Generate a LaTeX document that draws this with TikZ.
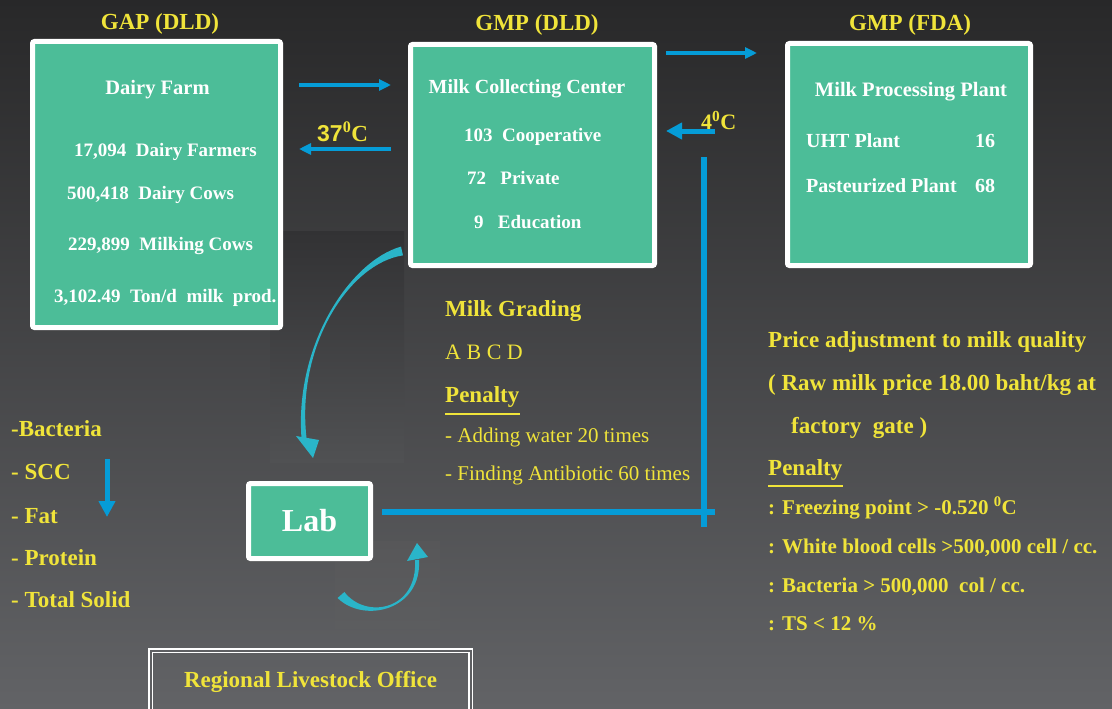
\documentclass[tikz,border=0pt]{standalone}
\usepackage{fontspec}
\setmainfont{Liberation Serif}
\newfontfamily\arialfont{Liberation Sans}
\usepackage{xcolor}
\usetikzlibrary{arrows.meta}

\definecolor{boxgreen}{RGB}{76,189,152}
\definecolor{labelyellow}{RGB}{240,228,58}
\definecolor{flowblue}{RGB}{5,156,215}
\definecolor{curveteal}{RGB}{42,181,201}
\definecolor{bgtop}{RGB}{40,40,41}
\definecolor{bgbottom}{RGB}{98,99,102}
\definecolor{bgoffice}{RGB}{94,95,98}

\tikzset{
	stagebox/.style={draw=white,line width=5pt,fill=boxgreen,rounded corners=2pt,inner sep=0pt,outer sep=0pt},
	boxline/.style={text=white,inner sep=0pt,anchor=base west,font=\bfseries\fontsize{#1}{24}\selectfont},
	boxline/.default=19,
	heading/.style={text=labelyellow,inner sep=0pt,anchor=base,font=\bfseries\fontsize{23}{26}\selectfont},
	note/.style={text=labelyellow,inner sep=0pt,anchor=base west,font=\fontsize{21}{24}\selectfont},
	boldnote/.style={note,font=\bfseries\fontsize{#1}{26}\selectfont},
	boldnote/.default=23,
	underline/.style={labelyellow,line width=2.7pt},
	flow/.style={flowblue,line width=3.5pt,-{Triangle[length=12pt,width=11pt]}},
	bigflow/.style={flowblue,line width=5pt,-{Triangle[length=16pt,width=16pt]}},
	wire/.style={flowblue,line width=5.5pt},
	sweep/.style={fill=curveteal},
}

\begin{document}
\begin{tikzpicture}[x=1pt,y=-1pt]
	\shade[top color=bgtop,bottom color=bgbottom] (0,0) rectangle (1112,709);
	\useasboundingbox (0,0) rectangle (1112,709);
	\shade[top color={rgb,255:red,50;green,50;blue,52},bottom color={rgb,255:red,80;green,81;blue,83}] (270,231) rectangle (404,462);
	\shade[top color={rgb,255:red,87;green,87;blue,89},bottom color={rgb,255:red,92;green,93;blue,95}] (335,541) rectangle (440,628);

	\node[stagebox,minimum width=248pt,minimum height=286pt] (farm) at (156.5,184.5) {};
	\node[stagebox,minimum width=244pt,minimum height=221pt] (collect) at (532.5,155) {};
	\node[stagebox,minimum width=243pt,minimum height=222pt] (plant) at (909,154.5) {};
	\node[stagebox,minimum width=122pt,minimum height=75pt,text=white,font=\bfseries\fontsize{32}{32}\selectfont] (lab) at (309.5,521) {Lab};
	\node[draw=white,line width=1.5pt,double=bgoffice,double distance=2pt,minimum width=320pt,minimum height=80pt,inner sep=0pt] (office) at (310.5,690.5) {};

	\node[heading] (gaptitle) at (160,30) {GAP (DLD)};
	\node[heading] (gmptitle) at (537,31) {GMP (DLD)};
	\node[heading] (fdatitle) at (910,31) {GMP (FDA)};

	\node[boxline=20.5,anchor=base] (farmname) at (157.5,95) {Dairy Farm};
	\foreach \x/\y/\t [count=\i] in {74/156/{17,094~~Dairy Farmers},67/199/{500,418~~Dairy Cows},68/250/{229,899~~Milking Cows},54/302/{3,102.49~~Ton/d~~milk~~prod.}}
		\node[boxline] (farm\i) at (\x,\y) {\t};

	\node[boxline=20,anchor=base] (collectname) at (527,93) {Milk Collecting Center};
	\foreach \x/\y/\t [count=\i] in {464/142/{103~~Cooperative},467/184/{72~~~Private},474/228/{9~~~Education}}
		\node[boxline] (collect\i) at (\x,\y) {\t};

	\node[boxline=20.5,anchor=base] (plantname) at (911,96) {Milk Processing Plant};
	\foreach \y/\t/\n [count=\i] in {147/UHT Plant/16,192/Pasteurized Plant/68}{
		\node[boxline=20] (plant\i) at (806,\y) {\t};
		\node[boxline=20] (count\i) at (975,\y) {\n};
	}

	\node[heading] (officename) at (310.5,687) {Regional Livestock Office};

	\node[boldnote] (grading) at (445,316) {Milk Grading};
	\node[note,font=\fontsize{22}{24}\selectfont] (grades) at (445,359) {A B C D};
	\node[boldnote] (penalty) at (445,402) {Penalty};
	\draw[underline] ([yshift=-12pt]penalty.base west) -- ([yshift=-12pt]penalty.base east);
	\node[note] (water) at (445,442) {- Adding water 20 times};
	\node[note] (antibiotic) at (445,480) {- Finding Antibiotic 60 times};

	\node[boldnote] (price1) at (768,347) {Price adjustment to milk quality};
	\node[boldnote] (price2) at (768,390) {( Raw milk price 18.00 baht/kg at};
	\node[boldnote] (price3) at (791,433) {factory~~gate )};
	\node[boldnote] (penaltyfda) at (768,475) {Penalty};
	\draw[underline] ([yshift=-11pt]penaltyfda.base west) -- ([yshift=-11pt]penaltyfda.base east);
	\foreach \y/\t [count=\i] in {514/{: Freezing point > -0.520 \textsuperscript{0}C},553/{: White blood cells >500,000 cell / cc.},592/{: Bacteria > 500,000~~col / cc.},630/{: TS < 12 \%}}
		\node[boldnote=21] (rule\i) at (768,\y) {\t};

	\foreach \y/\t [count=\i] in {436/-Bacteria,479/- SCC,523/- Fat,565/- Protein,607/- Total Solid}
		\node[boldnote] (test\i) at (11,\y) {\t};

	\node[boldnote] (warm) at (317,142) {{\arialfont 37}\textsuperscript{0}C};
	\node[boldnote=22] (cold) at (701,129) {4\textsuperscript{0}C};

	\coordinate (farmout) at (299,85);
	\coordinate (collectin) at (391,85);
	\coordinate (collectback) at (391,149);
	\coordinate (farmback) at (299,149);
	\coordinate (collectout) at (666,53);
	\coordinate (plantin) at (757,53);
	\coordinate (coldstart) at (715,131);
	\coordinate (coldend) at (666,131);
	\coordinate (wiretop) at (704,157);
	\coordinate (wirebottom) at (704,527);
	\coordinate (wireend) at (715,512);
	\coordinate (dropstart) at (107,459);
	\coordinate (dropend) at (107,517);

	\draw[flow] (farmout) -- (collectin);
	\draw[flow] (collectback) -- (farmback);
	\draw[flow] (collectout) -- (plantin);
	\draw[bigflow] (coldstart) -- (coldend);
	\draw[wire] (wiretop) -- (wirebottom);
	\draw[wire] ([xshift=11.5pt]wireend -| lab.east) -- (wireend);
	\draw[bigflow] (dropstart) -- (dropend);

	\fill[sweep] (401,246.6) .. controls (350,261) and (294.5,345) .. (301.5,438.2) -- (306.5,437.8) .. controls (296,345) and (350,263) .. (403,255.4) -- cycle;
	\fill[sweep] (296,436) -- (313,458) -- (319,440) -- cycle;
	\fill[sweep] (337.6,598) .. controls (364,624) and (422,610) .. (419,559.9) -- (415,560.1) .. controls (418,610) and (366,620) .. (344.4,592) -- cycle;
	\fill[sweep] (407,561) -- (417,543) -- (428,557) -- cycle;
\end{tikzpicture}
\end{document}
